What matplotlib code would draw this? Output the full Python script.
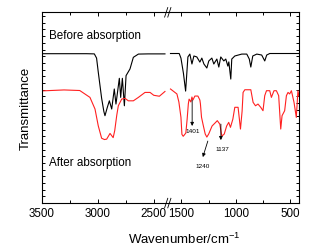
import matplotlib
matplotlib.use("Agg")
import matplotlib.pyplot as plt
from matplotlib.ticker import MultipleLocator, FixedLocator

plt.rcParams['font.family'] = ['Liberation Sans', 'DejaVu Sans']
plt.rcParams['mathtext.fontset'] = 'custom'
plt.rcParams['mathtext.rm'] = 'Liberation Sans'
plt.rcParams['mathtext.default'] = 'rm'

# spectra (wavenumber cm-1, transmittance a.u.)
wn_before_hi = [3500, 3100, 3030, 3010, 2995, 2965, 2945, 2935, 2915, 2896, 2875, 2852,
                2837, 2807, 2795, 2780, 2762, 2747, 2712, 2682, 2637, 2550, 2400]
t_before_hi = [78.3, 78.3, 78.2, 76.0, 68.7, 55.0, 48.0, 45.8, 50.0, 53.6, 49.3, 59.8,
               51.9, 65.4, 55.4, 65.4, 51.0, 66.8, 70.3, 76.4, 78.1, 78.2, 78.2]

wn_before_lo = [1600, 1520, 1504, 1481, 1461, 1440, 1422, 1403, 1385, 1358, 1330, 1312,
                1293, 1266, 1248, 1220, 1202, 1174, 1156, 1138, 1110, 1092, 1073, 1064,
                1046, 1037, 1009, 945, 899, 876, 862, 844, 807, 762, 734, 716, 688, 420]
t_before_lo = [78.4, 78.4, 76.0, 68.0, 58.7, 76.6, 78.1, 72.9, 77.1, 76.6, 73.9, 76.0,
               72.9, 70.8, 74.5, 76.0, 72.9, 75.5, 71.3, 76.6, 74.5, 75.5, 71.8, 74.0,
               65.0, 75.5, 77.1, 78.1, 78.1, 75.5, 71.3, 77.1, 78.1, 77.6, 74.5, 77.6,
               78.4, 78.4]

wn_after_hi = [3500, 3300, 3160, 3069, 3024, 2995, 2965, 2940, 2920, 2890, 2862, 2848,
               2830, 2816, 2786, 2756, 2727, 2682, 2637, 2578, 2533, 2500, 2450, 2400]
t_after_hi = [58.8, 59.3, 59.0, 55.4, 49.3, 40.5, 34.0, 33.3, 33.5, 36.5, 34.3, 38.0,
              46.0, 51.0, 54.5, 54.9, 53.6, 53.6, 55.4, 58.0, 58.0, 56.5, 56.0, 58.5]

wn_after_lo = [1600, 1541, 1523, 1504, 1495, 1483, 1459, 1447, 1436, 1429, 1413, 1403,
               1394, 1376, 1348, 1330, 1325, 1315, 1300, 1281, 1266, 1249, 1218, 1185,
               1170, 1147, 1128, 1106, 1084, 1065, 1049, 1027, 1009, 979, 957, 942, 933,
               917, 862, 841, 819, 796, 771, 750, 734, 718, 688, 673, 649, 627, 606, 587,
               575, 551, 535, 520, 505, 489, 465, 444, 429, 420]
t_after_lo = [59.8, 57.2, 53.0, 45.0, 36.0, 35.0, 36.7, 44.0, 52.0, 54.5, 53.0, 55.6,
              54.0, 56.1, 56.1, 54.0, 52.0, 45.0, 41.0, 36.2, 34.6, 36.2, 40.4, 42.3,
              43.2, 41.4, 35.1, 36.2, 40.4, 42.3, 39.7, 44.0, 50.2, 50.2, 38.8, 48.2, 58.0,
              59.4, 59.4, 52.8, 51.0, 51.9, 50.2, 48.4, 56.3, 58.9, 58.9, 55.4, 58.9, 58.9,
              56.3, 38.8, 45.8, 48.4, 56.3, 58.0, 57.2, 58.9, 52.8, 44.9, 58.9, 56.0]

# peak annotations: arrow tail (x0, y0) -> head (x1, y1), label centre
peak_labels = ['1401', '1240', '1137']
arrow_tail = [(1401, 54.0), (1257, 32.5), (1137, 41.4)]
arrow_head = [(1401, 40.4), (1303, 24.1), (1137, 33.0)]
label_xy = [(1394, 38.0), (1303, 19.5), (1128, 28.5)]

fig = plt.figure(figsize=(3.13, 2.51), dpi=100)
gs = fig.add_gridspec(1, 2, width_ratios=[126, 131], wspace=0,
                      left=0.133, right=0.955, top=0.947, bottom=0.187)
ax1 = fig.add_subplot(gs[0])
ax2 = fig.add_subplot(gs[1], sharey=ax1)

ax1.plot(wn_before_hi, t_before_hi, color='black', lw=0.8)
ax1.plot(wn_after_hi, t_after_hi, color='#ff2020', lw=0.8)
ax2.plot(wn_before_lo, t_before_lo, color='black', lw=0.8)
ax2.plot(wn_after_lo, t_after_lo, color='#ff2020', lw=0.8)

ax1.set_xlim(3500, 2375)
ax2.set_xlim(1625, 420)
ax1.set_ylim(0, 100)

ax1.xaxis.set_major_locator(FixedLocator([3500, 3000, 2500]))
ax1.xaxis.set_minor_locator(FixedLocator([3250, 2750]))
ax2.xaxis.set_major_locator(FixedLocator([1500, 1000, 500]))
ax2.xaxis.set_minor_locator(FixedLocator([1250, 750]))
ax1.yaxis.set_major_locator(MultipleLocator(3.5))

for ax in (ax1, ax2):
    ax.tick_params(which='both', direction='in', top=True, right=True, labelsize=8.4,
                   pad=3, width=0.7)
    ax.tick_params(which='major', length=3)
    ax.tick_params(which='minor', length=2)
    ax.tick_params(axis='y', length=2, labelleft=False, labelright=False)
    for s in ax.spines.values():
        s.set_linewidth(0.8)

ax1.spines['right'].set_visible(False)
ax2.spines['left'].set_visible(False)
ax1.tick_params(axis='y', right=False)
ax2.tick_params(axis='y', left=False)

# break marks
for yb in (0, 1):
    for dx in (-0.012, 0.012):
        ax2.plot([dx - 0.012, dx + 0.012], [yb - 0.025, yb + 0.025],
                 transform=ax2.transAxes, color='black', lw=0.6, clip_on=False)

ax1.text(3430, 88, 'Before absorption', fontsize=8.4, va='center')
ax1.text(3430, 21.5, 'After absorption', fontsize=8.4, va='center')

for lab, tail, head, txy in zip(peak_labels, arrow_tail, arrow_head, label_xy):
    ax2.annotate('', xy=head, xytext=tail,
                 arrowprops=dict(arrowstyle='-|>', lw=0.6, color='black',
                                 mutation_scale=5, shrinkA=0, shrinkB=0))
    ax2.text(txy[0], txy[1], lab, fontsize=4.6, ha='center', va='center')

ax1.set_ylabel('Transmittance', fontsize=9.5, labelpad=7)
fig.text(0.59, 0.045, 'Wavenumber/cm$^{-1}$', fontsize=9.5, ha='center', va='center')

fig.savefig('out.png', dpi=100)
